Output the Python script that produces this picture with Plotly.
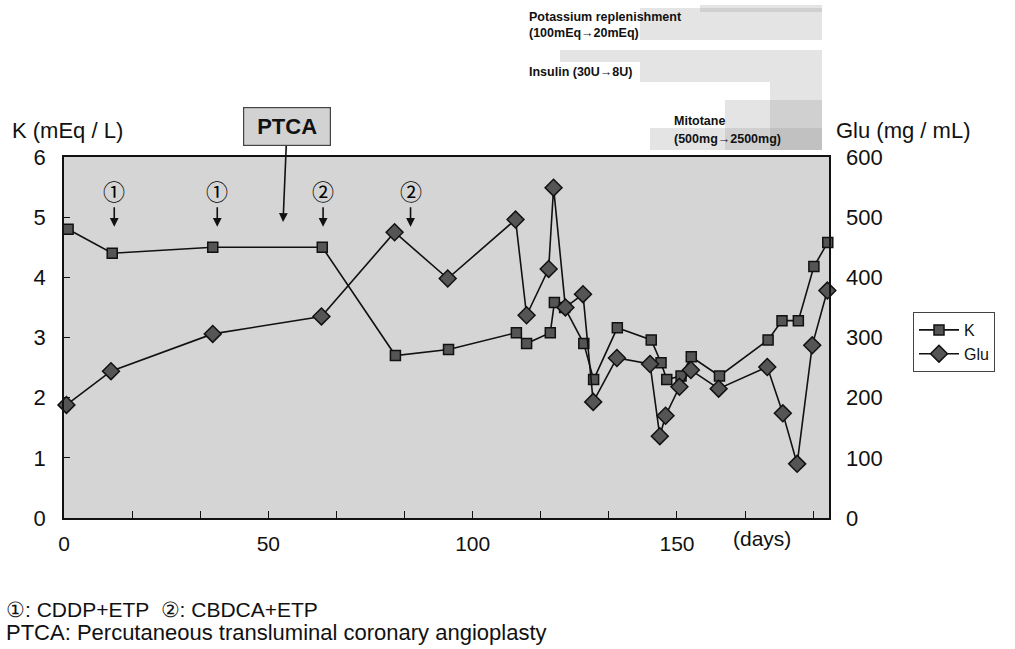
import plotly.graph_objects as go

# ---- data ----
k_days = [1.0, 11.8, 36.4, 63.2, 81.1, 94.1, 110.7, 113.2, 119.0, 120.0, 122.5, 127.2, 129.6,
          135.4, 143.7, 146.1, 147.5, 151.0, 153.5, 160.4, 172.3, 175.7, 179.7, 183.5, 186.9]
k_vals = [4.8, 4.4, 4.5, 4.5, 2.7, 2.8, 3.08, 2.9, 3.08, 3.58, 3.5, 2.9, 2.3,
          3.16, 2.96, 2.58, 2.3, 2.36, 2.68, 2.36, 2.96, 3.28, 3.28, 4.18, 4.58]

glu_days = [0.6, 11.5, 36.4, 63.0, 80.9, 93.9, 110.5, 113.2, 118.6, 119.8, 122.7, 127.0, 129.5,
            135.3, 143.4, 145.8, 147.2, 150.6, 153.4, 160.2, 172.1, 175.9, 179.4, 183.1, 186.8]
glu_vals = [188, 244, 306, 335, 475, 398, 496, 337, 414, 549, 350, 372, 193,
            266, 256, 136, 170, 218, 246, 215, 251, 174, 90, 287, 378]

x_tickvals = [i * 50 / 3 for i in range(12)]
x_ticktext = ["0", "", "", "50", "", "", "100", "", "", "150", "", ""]
k_ticks = [0, 1, 2, 3, 4, 5, 6]
glu_ticks = [0, 100, 200, 300, 400, 500, 600]

chemo_days = [12.3, 37.5, 63.4, 84.8]
chemo_labels = ["①", "①", "②", "②"]
ptca_day = 53.6

W, H = 1015, 649
L, R, T, B = 64, 829, 157, 518
FONT = "Liberation Sans, Arial, sans-serif"


def px(xp):
    return (xp - L) / (R - L)


def py(yp):
    return (B - yp) / (B - T)


fig = go.Figure()
fig.add_trace(go.Scatter(
    x=k_days, y=k_vals, name="K", mode="lines+markers",
    line=dict(color="#111111", width=1.6),
    marker=dict(symbol="square", size=10, color="#555555", line=dict(color="#111111", width=1.5)),
    cliponaxis=False, yaxis="y"))
fig.add_trace(go.Scatter(
    x=glu_days, y=glu_vals, name="Glu", mode="lines+markers",
    line=dict(color="#111111", width=1.6),
    marker=dict(symbol="diamond", size=13, color="#555555", line=dict(color="#111111", width=1.5)),
    cliponaxis=False, yaxis="y2"))

annotations = []
# chemo markers
for d, lab in zip(chemo_days, chemo_labels):
    annotations.append(dict(
        x=d, y=4.84, xref="x", yref="y", text=lab, showarrow=True,
        ax=0, ay=-37, arrowhead=2, arrowsize=1.1, arrowwidth=1.6, arrowcolor="#111111",
        font=dict(family="Noto Sans CJK JP, DejaVu Sans", size=22, color="#000000")))
# PTCA
annotations.append(dict(
    x=ptca_day, y=4.92, xref="x", yref="y", text="<b>PTCA</b>", showarrow=True,
    ax=4, ay=-95, arrowhead=2, arrowsize=1.1, arrowwidth=1.6, arrowcolor="#111111",
    bgcolor="#d2d2d2", bordercolor="#444444", borderwidth=1.2, borderpad=4,
    width=78, height=29,
    font=dict(family=FONT, size=22, color="#111111")))
# axis titles
annotations.append(dict(x=px(10), y=py(130), xref="paper", yref="paper", xanchor="left", yanchor="middle",
                        text="K (mEq / L)", showarrow=False, font=dict(family=FONT, size=22, color="#111111")))
annotations.append(dict(x=px(834), y=py(130), xref="paper", yref="paper", xanchor="left", yanchor="middle",
                        text="Glu (mg / mL)", showarrow=False, font=dict(family=FONT, size=22, color="#111111")))
annotations.append(dict(x=px(731), y=py(538), xref="paper", yref="paper", xanchor="left", yanchor="middle",
                        text="(days)", showarrow=False, font=dict(family=FONT, size=21, color="#111111")))
# footnotes
annotations.append(dict(x=px(4), y=py(609), xref="paper", yref="paper", xanchor="left", yanchor="middle",
                        text="①: CDDP+ETP  ②: CBDCA+ETP", showarrow=False,
                        font=dict(family=FONT, size=21, color="#111111")))
annotations.append(dict(x=px(4), y=py(632), xref="paper", yref="paper", xanchor="left", yanchor="middle",
                        text="PTCA: Percutaneous transluminal coronary angioplasty", showarrow=False,
                        font=dict(family=FONT, size=22, color="#111111")))
# top treatment labels
for txt, xx, yy in [("<b>Potassium replenishment</b>", 527, 17), ("<b>(100mEq→20mEq)</b>", 527, 33),
                    ("<b>Insulin (30U→8U)</b>", 527, 72),
                    ("<b>Mitotane</b>", 672, 121), ("<b>(500mg→2500mg)</b>", 672, 139)]:
    annotations.append(dict(x=px(xx), y=py(yy), xref="paper", yref="paper", xanchor="left", yanchor="middle",
                            text=txt, showarrow=False, font=dict(family=FONT, size=12.5, color="#111111")))

shapes = []
band_color = "rgba(150,150,150,0.26)"
for x0, y0, x1, y1 in [(640, 8, 822, 40), (700, 5, 822, 12),
                       (560, 50, 822, 62), (640, 62, 822, 82),
                       (770, 82, 822, 150), (725, 100, 822, 150), (650, 128, 822, 150)]:
    shapes.append(dict(type="rect", xref="paper", yref="paper", x0=px(x0), x1=px(x1), y0=py(y1), y1=py(y0),
                       fillcolor=band_color, line=dict(width=0), layer="below"))

fig.update_layout(
    width=W, height=H,
    margin=dict(l=L, r=W - R, t=T, b=H - B, pad=0),
    paper_bgcolor="white", plot_bgcolor="#d5d5d5",
    font=dict(family=FONT, size=21, color="#111111"),
    showlegend=True,
    legend=dict(x=px(913), y=py(312), xanchor="left", yanchor="top",
                bordercolor="#444444", borderwidth=1, bgcolor="white",
                font=dict(family=FONT, size=16, color="#111111"),
                itemwidth=40, tracegroupgap=6),
    xaxis=dict(range=[0, 187.2], tickvals=x_tickvals, ticktext=x_ticktext, ticks="inside", ticklen=7,
               tickcolor="#111111", showgrid=False, zeroline=False, showline=True, linecolor="#111111",
               linewidth=1.5, mirror=True, ticklabelstandoff=6, tickfont=dict(size=21)),
    yaxis=dict(range=[0, 6], tickvals=k_ticks, ticks="inside", ticklen=6, tickcolor="#111111",
               showgrid=False, zeroline=False, showline=True, linecolor="#111111", linewidth=1.5,
               mirror=True, ticklabelstandoff=12, tickfont=dict(size=22)),
    yaxis2=dict(range=[0, 600], tickvals=glu_ticks, overlaying="y", side="right", ticks="",
                showgrid=False, zeroline=False, showline=False, ticklabelstandoff=16,
                tickfont=dict(size=22)),
    annotations=annotations, shapes=shapes,
)

fig.write_html("out.html")
